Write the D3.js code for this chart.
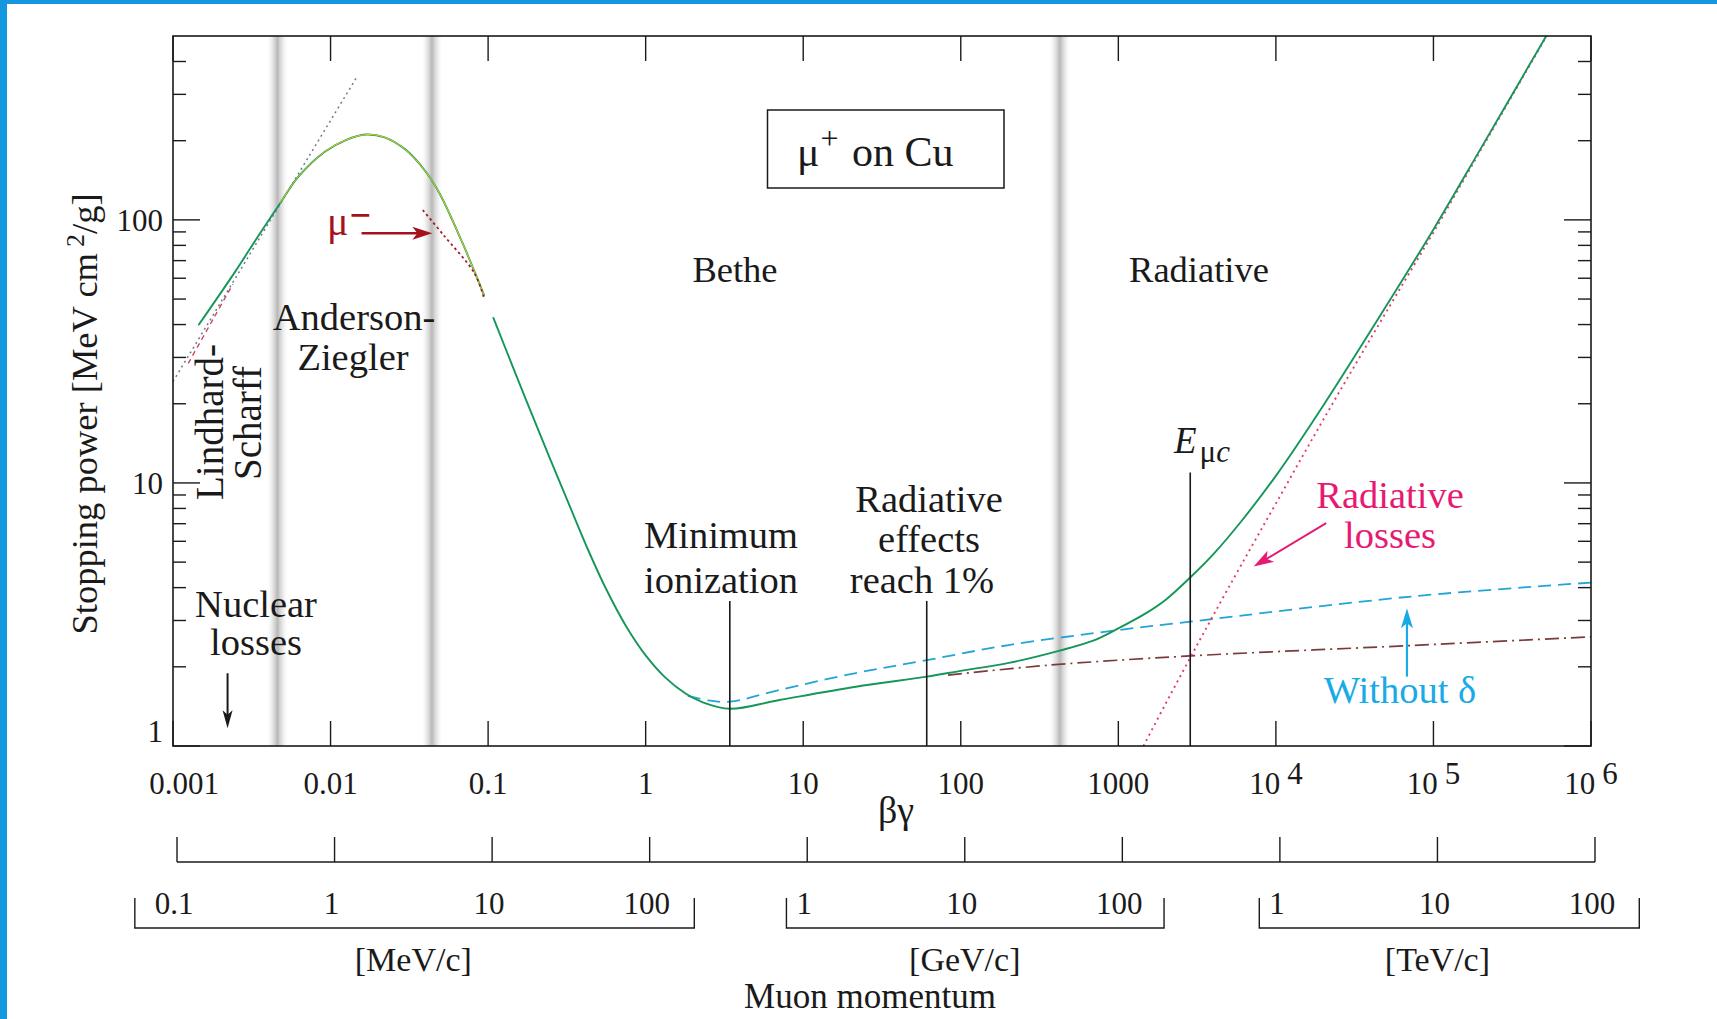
<!DOCTYPE html>
<html>
<head>
<meta charset="utf-8">
<script src="https://cdn.jsdelivr.net/npm/d3@7"></script>
<style>
  html, body { margin: 0; padding: 0; background: #fff; }
  svg { display: block; font-family: "Liberation Serif", "Times New Roman", "DejaVu Serif", serif; }
</style>
</head>
<body>
<svg id="chart" width="1717" height="1019"></svg>
<script>
// ---------- data (βγ, stopping power in MeV cm²/g) ----------
const xTickValues = [1e-3, 1e-2, 1e-1, 1, 10, 100, 1000, 1e4, 1e5, 1e6];
const xTickLabels = ["0.001", "0.01", "0.1", "1", "10", "100", "1000", "10^4", "10^5", "10^6"];
const yTickValues = [1, 10, 100];
const yTickLabels = ["1", "10", "100"];
const yMinorValues = [2, 3, 4, 5, 6, 7, 8, 9, 20, 30, 40, 50, 60, 70, 80, 90, 200, 300, 400];

// shaded transition bands (βγ)
const bandCenters = [0.0046, 0.044, 425];

// total stopping power, Lindhard–Scharff / Anderson–Ziegler region
const totalLow = [[0.00146, 40], [0.0025, 64], [0.00357, 89], [0.0048, 116], [0.00625, 146],
  [0.00924, 182], [0.0125, 201], [0.0167, 211], [0.022, 206], [0.0299, 185], [0.04, 153],
  [0.0494, 125.4], [0.0692, 81], [0.0942, 51.8]];

// total stopping power, Bethe + radiative region
const totalHigh = [[0.108, 42.4], [0.1743, 20.65], [0.2466, 12.4], [0.33, 8.15], [0.4315, 5.56],
  [0.56, 3.96], [0.7546, 2.84], [1.0, 2.21], [1.319, 1.832], [1.8, 1.58], [2.307, 1.466], [3.42, 1.385],
  [7.06, 1.496], [21.6, 1.68], [60.8, 1.835], [100, 1.93], [201.8, 2.07], [419, 2.30], [700, 2.52],
  [1000, 2.80], [1500, 3.2], [2000, 3.6], [2858, 4.37], [4000, 5.35], [6000, 7.12], [10000, 10.64],
  [20000, 19.7], [52970, 49.6], [100000, 92], [200000, 187], [520000, 500], [560000, 538]];

// ionization loss without density-effect correction
const withoutDelta = [[1.85, 1.55], [2.5, 1.49], [3.42, 1.474], [7.06, 1.633], [21.6, 1.894],
  [60.8, 2.12], [201.8, 2.42], [1007, 2.76], [2858, 2.97], [72100, 3.70], [1e6, 4.18]];

// ionization loss alone (with δ)
const ionization = [[83, 1.86], [367, 2.03], [2858, 2.20], [72100, 2.41], [1e6, 2.60]];

// radiative losses
const radiative = [[1442, 1.0], [2000, 1.451], [2858, 2.165], [4000, 3.134], [6000, 4.856],
  [10000, 8.35], [20000, 17.4], [52970, 47.2], [100000, 89.6], [200000, 184.5], [520000, 497.4],
  [560000, 536]];

// negative muon (Barkas effect)
const muMinus = [[0.0385, 109], [0.0524, 87.2], [0.0819, 62.7], [0.0942, 50.5]];

// Lindhard–Scharff extrapolation and low-energy branch
const lindhard = [[0.001, 24.3], [0.0145, 345]];
const lowBranch = [[0.00125, 28.5], [0.0018, 42], [0.0024, 57]];

// marked βγ values: [βγ, top of marker (stopping power)]
const minIonization = [3.42, 3.56];
const radiativeOnePercent = [60.8, 3.56];
const muonCriticalEnergy = [2860, 10.95];

// muon momentum axis (MeV/c)
const momentumTicks = [0.1, 1, 10, 100, 1e3, 1e4, 1e5, 1e6, 1e7, 1e8];
const momentumLabels = ["0.1", "1", "10", "100", "1", "10", "100", "1", "10", "100"];
const momentumUnits = ["[MeV/c]", "[GeV/c]", "[TeV/c]"];
const momentumGroupSpans = [[0.054, 192], [738, 184000], [7.4e5, 1.91e8]];
const momentumGroupTicks = [[0.1, 100], [1e3, 1e5], [1e6, 1e8]];

// ---------- layout ----------
const W = 1717, H = 1019;
const plot = { left: 173, right: 1591, top: 36, bottom: 746 };
const svg = d3.select("#chart");

const x = d3.scaleLog().domain([1e-3, 1e6]).range([plot.left, plot.right]);
const y = d3.scaleLog().domain([1, 500]).range([plot.bottom, plot.top]);
const pScale = d3.scaleLog().domain([0.1, 1e8]).range([177, 1595]);

const ink = "#1a1a1a";
const serif = '"Liberation Serif", "Times New Roman", serif';

// page background + blue edge
svg.append("rect").attr("width", W).attr("height", H).attr("fill", "#fff");
svg.append("rect").attr("x", 0).attr("y", 0).attr("width", 7).attr("height", H).attr("fill", "#1497de");
svg.append("rect").attr("x", 0).attr("y", 0).attr("width", W).attr("height", 4).attr("fill", "#1497de");

const defs = svg.append("defs");
defs.append("clipPath").attr("id", "plotClip")
  .append("rect").attr("x", plot.left).attr("y", plot.top)
  .attr("width", plot.right - plot.left).attr("height", plot.bottom - plot.top);

const grad = defs.append("linearGradient").attr("id", "bandGrad").attr("x1", 0).attr("x2", 1).attr("y1", 0).attr("y2", 0);
[[0, "#ffffff", 0], [0.25, "#d4d4d4", 0.5], [0.5, "#ababab", 0.85], [0.75, "#d4d4d4", 0.5], [1, "#ffffff", 0]]
  .forEach(([o, c, a]) => grad.append("stop").attr("offset", o).attr("stop-color", c).attr("stop-opacity", a));

// shaded bands
const bandHalf = 11;
svg.append("g").selectAll("rect").data(bandCenters).join("rect")
  .attr("x", d => x(d) - bandHalf).attr("y", plot.top)
  .attr("width", bandHalf * 2).attr("height", plot.bottom - plot.top)
  .attr("fill", "url(#bandGrad)");

// ---------- curves ----------
const line = d3.line().x(d => x(d[0])).y(d => y(d[1])).curve(d3.curveCatmullRom.alpha(0.5));
const curves = svg.append("g").attr("clip-path", "url(#plotClip)").attr("fill", "none");

function drawCurve(data, color, width, dash) {
  const p = curves.append("path").attr("d", line(data))
    .attr("stroke", color).attr("stroke-width", width)
    .attr("stroke-linecap", dash ? "butt" : "round").attr("stroke-linejoin", "round");
  if (dash) p.attr("stroke-dasharray", dash);
  return p;
}

drawCurve(lindhard, "#6f7a8a", 1.5, "2,3.5");
drawCurve(lowBranch, "#c94a5e", 1.4, "5,4");
drawCurve(withoutDelta, "#22a5d6", 1.8, "13,7");
drawCurve(ionization, "#7a3b3b", 1.7, "14,5,2,5");
drawCurve(radiative, "#e53a6a", 1.9, "2,4");
drawCurve(totalLow, "#16965a", 1.9);
drawCurve(totalLow.filter(d => d[0] >= 0.0048), "#e2d11c", 1.0);
drawCurve(totalHigh, "#16965a", 1.9);
drawCurve(muMinus, "#a01c28", 1.8, "2.5,3");

// ---------- marker lines ----------
const markers = svg.append("g").attr("stroke", ink).attr("stroke-width", 1.6);
[minIonization, radiativeOnePercent, muonCriticalEnergy].forEach(([bg, top]) => {
  markers.append("line").attr("x1", x(bg)).attr("x2", x(bg)).attr("y1", y(top)).attr("y2", plot.bottom);
});

// ---------- frame and ticks ----------
svg.append("rect").attr("x", plot.left).attr("y", plot.top)
  .attr("width", plot.right - plot.left).attr("height", plot.bottom - plot.top)
  .attr("fill", "none").attr("stroke", ink).attr("stroke-width", 1.6);

const ticks = svg.append("g").attr("stroke", ink).attr("stroke-width", 1.4);
xTickValues.forEach(v => {
  ticks.append("line").attr("x1", x(v)).attr("x2", x(v)).attr("y1", plot.bottom).attr("y2", plot.bottom - 25);
  ticks.append("line").attr("x1", x(v)).attr("x2", x(v)).attr("y1", plot.top).attr("y2", plot.top + 25);
});
yTickValues.forEach(v => {
  ticks.append("line").attr("x1", plot.left).attr("x2", plot.left + 27).attr("y1", y(v)).attr("y2", y(v));
  ticks.append("line").attr("x1", plot.right).attr("x2", plot.right - 27).attr("y1", y(v)).attr("y2", y(v));
});
yMinorValues.forEach(v => {
  ticks.append("line").attr("x1", plot.left).attr("x2", plot.left + 13).attr("y1", y(v)).attr("y2", y(v));
  ticks.append("line").attr("x1", plot.right).attr("x2", plot.right - 13).attr("y1", y(v)).attr("y2", y(v));
});

// ---------- text helpers ----------
function label(txt, px, py, size, opts = {}) {
  const t = svg.append("text").attr("x", px).attr("y", py)
    .attr("font-size", size).attr("font-family", serif)
    .attr("fill", opts.color || ink)
    .attr("text-anchor", opts.anchor || "middle");
  if (opts.italic) t.attr("font-style", "italic");
  if (opts.rotate) t.attr("transform", `rotate(${opts.rotate},${px},${py})`);
  t.text(txt);
  return t;
}

// x tick labels (powers drawn with raised exponent)
xTickLabels.forEach((s, i) => {
  const cx = x(xTickValues[i]) + (i === 0 ? 11 : 0);
  const t = svg.append("text").attr("x", cx).attr("y", 794).attr("font-size", 31)
    .attr("font-family", serif).attr("fill", ink).attr("text-anchor", "middle");
  if (s.includes("^")) {
    const [base, exp] = s.split("^");
    t.append("tspan").text(base);
    t.append("tspan").attr("dx", 7).attr("dy", -10).text(exp);
  } else {
    t.text(s);
  }
});

// y tick labels
yTickLabels.forEach((s, i) => {
  const v = yTickValues[i];
  const yy = y(v) + (v === 1 ? -15 : 0);
  label(s, 163, yy + 11, 31, { anchor: "end" });
});

// axis titles
label("βγ", 896, 823, 38);
const yTitle = svg.append("text").attr("x", 97).attr("y", 414)
  .attr("font-size", 36.5).attr("font-family", serif).attr("fill", ink)
  .attr("text-anchor", "middle").attr("transform", "rotate(-90,97,414)");
yTitle.append("tspan").text("Stopping power [MeV cm");
yTitle.append("tspan").attr("dx", 6).attr("dy", -13).attr("font-size", 26).text("2");
yTitle.append("tspan").attr("dy", 13).text("/g]");

// ---------- momentum axis ----------
const mom = svg.append("g").attr("stroke", ink).attr("stroke-width", 1.4).attr("fill", "none");
mom.append("line").attr("x1", pScale(0.1)).attr("x2", pScale(1e8)).attr("y1", 862).attr("y2", 862);
momentumTicks.forEach(v => {
  mom.append("line").attr("x1", pScale(v)).attr("x2", pScale(v)).attr("y1", 862).attr("y2", 837);
});
momentumTicks.forEach((v, i) => label(momentumLabels[i], pScale(v) - 3, 914, 31));
momentumGroupSpans.forEach(([a, b], i) => {
  const x1 = pScale(a), x2 = pScale(b);
  mom.append("path").attr("d", `M${x1},898V928H${x2}V898`);
  const [t0, t1] = momentumGroupTicks[i];
  label(momentumUnits[i], (pScale(t0) + pScale(t1)) / 2, 971, 34);
});
label("Muon momentum", 870, 1008, 35);

// ---------- annotations ----------
function arrow(x1, y1, x2, y2, color, width, headLen, headHalf) {
  const a = Math.atan2(y2 - y1, x2 - x1);
  const bx = x2 - headLen * Math.cos(a), by = y2 - headLen * Math.sin(a);
  svg.append("line").attr("x1", x1).attr("y1", y1)
    .attr("x2", x2 - headLen * 0.6 * Math.cos(a)).attr("y2", y2 - headLen * 0.6 * Math.sin(a))
    .attr("stroke", color).attr("stroke-width", width);
  const nx = -Math.sin(a), ny = Math.cos(a);
  const back = headLen * 0.25;
  const pts = [
    [x2, y2],
    [bx + nx * headHalf, by + ny * headHalf],
    [bx + back * Math.cos(a), by + back * Math.sin(a)],
    [bx - nx * headHalf, by - ny * headHalf]
  ];
  svg.append("polygon").attr("points", pts.map(p => p.join(",")).join(" ")).attr("fill", color);
}

// title box
svg.append("rect").attr("x", 767.5).attr("y", 110).attr("width", 236.5).attr("height", 78)
  .attr("fill", "#fff").attr("stroke", ink).attr("stroke-width", 1.5);
const title = svg.append("text").attr("x", 797).attr("y", 166).attr("font-size", 42)
  .attr("font-family", serif).attr("fill", ink);
title.append("tspan").text("μ");
title.append("tspan").attr("dx", 1).attr("dy", -17).attr("font-size", 32).text("+");
title.append("tspan").attr("dx", 3).attr("dy", 17).text(" on Cu");

// regime labels
label("Bethe", 735, 282, 36.5);
label("Radiative", 1199, 282, 36.5);
label("Anderson-", 354, 330, 38.5);
label("Ziegler", 353, 370, 38.5);
label("Lindhard-", 223, 422, 39, { rotate: -90 });
label("Scharff", 261, 423, 39, { rotate: -90 });

label("Nuclear", 256, 617, 38.5);
label("losses", 256, 655, 38.5);
arrow(x(0.00222), y(1.89), x(0.00222), y(1.168), ink, 2, 18, 5);

label("Minimum", 721, 548, 38.5);
label("ionization", 721, 593, 38.5);
label("Radiative", 929, 512, 38.5);
label("effects", 929, 552, 38.5);
label("reach 1%", 922, 593, 38.5);

// critical energy label
const ec = svg.append("text").attr("x", 1174).attr("y", 453).attr("font-size", 37)
  .attr("font-family", serif).attr("fill", ink);
ec.append("tspan").attr("font-style", "italic").text("E");
ec.append("tspan").attr("dy", 9).attr("dx", 3).attr("font-size", 31).text("μ");
ec.append("tspan").attr("font-size", 31).attr("font-style", "italic").text("c");

// radiative losses
const pink = "#e61a72";
label("Radiative", 1390, 508, 38.5, { color: pink });
label("losses", 1390, 548, 38.5, { color: pink });
arrow(x(20850), y(7.03), x(7230), y(4.81), pink, 2, 20, 6.5);

// without density effect
const cyan = "#1aaae6";
label("Without δ", 1400, 703, 38.5, { color: cyan });
arrow(x(67900), y(1.835), x(67900), y(3.34), cyan, 2.2, 20, 6);

// negative muon
const darkRed = "#a5121e";
const mu = svg.append("text").attr("x", 327).attr("y", 235).attr("font-size", 40)
  .attr("font-family", serif).attr("fill", darkRed);
mu.append("tspan").text("μ");
mu.append("tspan").attr("dx", 1).attr("dy", -7).attr("font-size", 38).attr("font-weight", "bold").text("−");
arrow(x(0.01573), y(89), x(0.04427), y(89), darkRed, 2.6, 20, 6.5);
</script>
</body>
</html>
